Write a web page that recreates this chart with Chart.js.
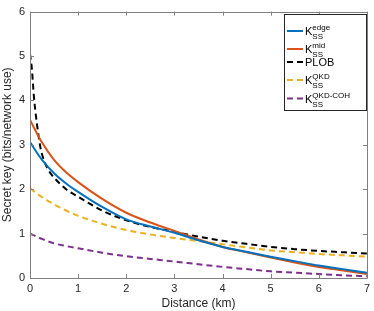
<!DOCTYPE html>
<html>
<head>
<meta charset="utf-8">
<script src="https://cdn.jsdelivr.net/npm/chart.js@4"></script>
<style>
  html, body { margin: 0; padding: 0; background: #fff; }
  #wrap { width: 374px; height: 311px; }
</style>
</head>
<body>
<div id="wrap"><canvas id="chart" width="374" height="311"></canvas></div>
<script>
// distance grid (km) shared by the smooth curves
const distance = [0, 0.25, 0.5, 0.75, 1, 1.5, 2, 2.5, 3, 3.5, 4, 4.5, 5, 5.5, 6, 6.5, 7];
const keyEdge  = [3.06, 2.66, 2.36, 2.13, 1.94, 1.60, 1.32, 1.16, 1.02, 0.85, 0.70, 0.59, 0.48, 0.38, 0.28, 0.20, 0.12];
const keyMid   = [3.56, 3.05, 2.66, 2.38, 2.16, 1.78, 1.47, 1.25, 1.06, 0.87, 0.70, 0.58, 0.46, 0.35, 0.25, 0.17, 0.09];
const keyQkd   = [2.02, 1.82, 1.66, 1.52, 1.40, 1.22, 1.08, 0.98, 0.90, 0.83, 0.76, 0.69, 0.62, 0.58, 0.54, 0.51, 0.48];
const keyCoh   = [1.00, 0.88, 0.78, 0.72, 0.67, 0.57, 0.49, 0.43, 0.37, 0.31, 0.25, 0.20, 0.15, 0.12, 0.09, 0.06, 0.04];

// PLOB needs more points near zero
const plobDistance = [0, 0.04, 0.08, 0.12, 0.17, 0.22, 0.3, 0.4, 0.5, 0.75, 1, 1.5, 2, 2.5, 3, 3.5, 4, 4.5, 5, 5.5, 6, 6.5, 7];
const plob         = [5.05, 4.7, 4.1, 3.68, 3.26, 2.92, 2.62, 2.4, 2.26, 2.0, 1.83, 1.52, 1.30, 1.15, 1.04, 0.93, 0.84, 0.77, 0.70, 0.65, 0.61, 0.58, 0.55];

const xTicks = [0, 1, 2, 3, 4, 5, 6, 7];
const yTicks = [0, 1, 2, 3, 4, 5, 6];

const FONT = "'Liberation Sans', Arial, Helvetica, sans-serif";
const TXT = "#262626";
const AXIS = "#808080";

function pts(xs, ys) {
  return xs.map((x, i) => ({ x: x, y: ys[i] }));
}

// legend entries: main text, subscript, superscript
const legendItems = [
  { ds: 0, main: "K", sub: "SS", sup: "edge" },
  { ds: 1, main: "K", sub: "SS", sup: "mid" },
  { ds: 2, main: "PLOB", sub: "", sup: "" },
  { ds: 3, main: "K", sub: "SS", sup: "QKD" },
  { ds: 4, main: "K", sub: "SS", sup: "QKD-COH" }
];

const boxPlugin = {
  id: "boxPlugin",
  afterDraw(chart) {
    const ctx = chart.ctx;
    const a = chart.chartArea;
    const xs = chart.scales.x, ys = chart.scales.y;
    ctx.save();
    ctx.strokeStyle = AXIS;
    ctx.lineWidth = 1;
    ctx.beginPath();
    ctx.rect(Math.round(a.left) + 0.5, Math.round(a.top) + 0.5,
             Math.round(a.right - a.left), Math.round(a.bottom - a.top));
    ctx.stroke();
    // inward ticks on all four sides
    ctx.beginPath();
    xTicks.forEach(v => {
      const px = Math.round(xs.getPixelForValue(v)) + 0.5;
      ctx.moveTo(px, a.bottom); ctx.lineTo(px, a.bottom - 4);
      ctx.moveTo(px, a.top); ctx.lineTo(px, a.top + 4);
    });
    yTicks.forEach(v => {
      const py = Math.round(ys.getPixelForValue(v)) + 0.5;
      ctx.moveTo(a.left, py); ctx.lineTo(a.left + 4, py);
      ctx.moveTo(a.right, py); ctx.lineTo(a.right - 4, py);
    });
    ctx.stroke();

    // legend
    const lx = 284.5, ly = 14.5, lw = 82, lh = 96;
    ctx.fillStyle = "#fff";
    ctx.fillRect(lx, ly, lw, lh);
    ctx.strokeStyle = "#262626";
    ctx.strokeRect(lx, ly, lw, lh);
    const rows = [31, 49, 62, 80, 98.5];
    legendItems.forEach((it, i) => {
      const ds = chart.data.datasets[it.ds];
      const y = rows[i];
      ctx.strokeStyle = ds.borderColor;
      ctx.lineWidth = 2;
      ctx.setLineDash(ds.borderDash || []);
      ctx.beginPath();
      ctx.moveTo(287, y); ctx.lineTo(303, y);
      ctx.stroke();
      ctx.setLineDash([]);
      ctx.fillStyle = "#000";
      ctx.textBaseline = "alphabetic";
      ctx.font = "11px " + FONT;
      const tx = 305;
      ctx.fillText(it.main, tx, y + 4);
      if (it.sub) {
        const w = ctx.measureText(it.main).width;
        ctx.font = "8px " + FONT;
        ctx.fillText(it.sub, tx + w, y + 8);
        ctx.fillText(it.sup, tx + w, y - 1);
      }
    });
    ctx.restore();
  }
};

const line = (label, data, color, dash) => ({
  label: label,
  data: data,
  borderColor: color,
  backgroundColor: color,
  borderWidth: 2,
  borderDash: dash,
  pointRadius: 0,
  showLine: true,
  fill: false,
  cubicInterpolationMode: "monotone"
});

new Chart(document.getElementById("chart"), {
  type: "scatter",
  data: {
    datasets: [
      line("K_SS^edge", pts(distance, keyEdge), "#0072BD", []),
      line("K_SS^mid", pts(distance, keyMid), "#D95319", []),
      line("PLOB", pts(plobDistance, plob), "#000000", [6, 4]),
      line("K_SS^QKD", pts(distance, keyQkd), "#EDB120", [6, 4]),
      line("K_SS^QKD-COH", pts(distance, keyCoh), "#7E2F8E", [6, 4])
    ]
  },
  options: {
    responsive: false,
    animation: false,
    layout: { padding: { left: 0, top: 11, right: 4, bottom: 0 } },
    plugins: { legend: { display: false }, tooltip: { enabled: false } },
    scales: {
      x: {
        type: "linear", min: 0, max: 7,
        afterFit: s => { s.height = 33; },
        afterBuildTicks: s => { s.ticks = xTicks.map(v => ({ value: v })); },
        grid: { display: false, drawTicks: false },
        border: { display: false },
        ticks: { color: TXT, font: { family: FONT, size: 11 }, padding: 4, maxRotation: 0 },
        title: { display: true, text: "Distance (km)", color: TXT, font: { family: FONT, size: 12 }, padding: { top: 0, bottom: 0 } }
      },
      y: {
        type: "linear", min: 0, max: 6,
        afterFit: s => { s.width = 30; },
        afterBuildTicks: s => { s.ticks = yTicks.map(v => ({ value: v })); },
        grid: { display: false, drawTicks: false },
        border: { display: false },
        ticks: { color: TXT, font: { family: FONT, size: 11 }, padding: 5 },
        title: { display: true, text: "Secret key (bits/network use)", color: TXT, font: { family: FONT, size: 12 }, padding: { top: 0, bottom: 0 } }
      }
    }
  },
  plugins: [boxPlugin]
});
</script>
</body>
</html>
